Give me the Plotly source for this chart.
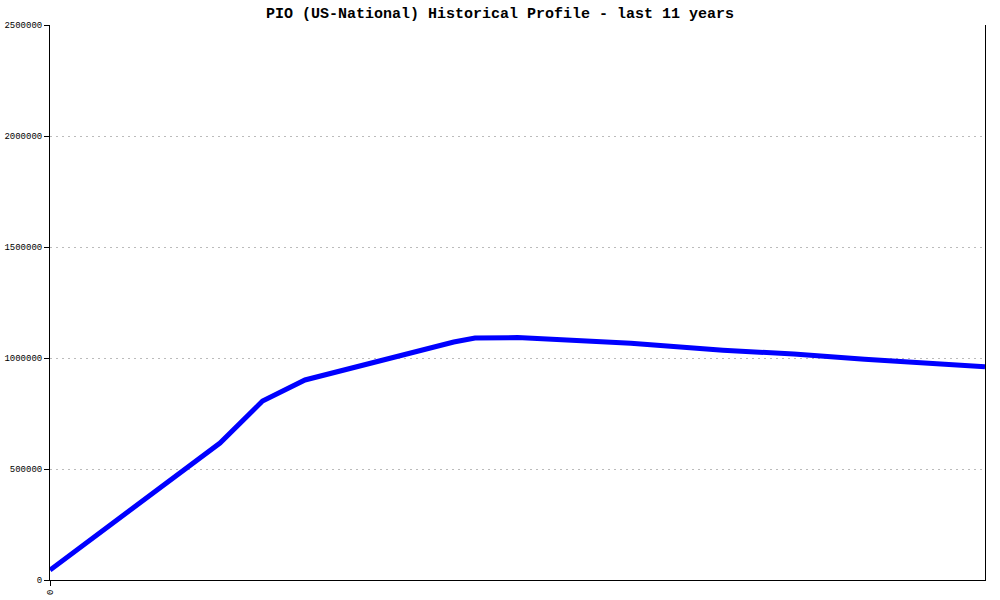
import plotly.graph_objects as go

# month index (0 = start of the 11-year window) and readings
months = [0, 24, 30, 36, 57, 60, 66, 75, 82, 95, 105, 115, 132]
values = [45000, 617000, 806000, 901000, 1072000, 1090000, 1092000, 1080000, 1066000, 1035000, 1018000, 994000, 961000]
x_tick_vals = [0]
x_tick_text = ["0"]
y_ticks = [0, 500000, 1000000, 1500000, 2000000, 2500000]

fig = go.Figure()
fig.add_trace(go.Scatter(x=months, y=values, mode="lines",
                         line=dict(color="#0000FF", width=5), hoverinfo="skip"))

mono = "Liberation Mono, Courier New, monospace"
W, H = 1000, 600
fig.update_layout(
    width=W, height=H,
    margin=dict(l=50, r=15, t=25, b=20, autoexpand=False),
    paper_bgcolor="white", plot_bgcolor="white",
    showlegend=False,
    title=dict(text="<b>PIO (US-National) Historical Profile - last 11 years</b>",
               x=0.5, xanchor="center", y=1 - 13 / H, yanchor="middle",
               font=dict(family=mono, size=15, color="black")),
    xaxis=dict(range=[0, 132], tickvals=x_tick_vals, ticktext=x_tick_text,
               tickangle=-90, ticks="outside", ticklen=5, tickcolor="black",
               showline=True, linecolor="black", linewidth=1, mirror=False,
               showgrid=False, zeroline=False,
               tickfont=dict(family=mono, size=9, color="black")),
    yaxis=dict(range=[0, 2500000], tickvals=y_ticks, ticktext=[str(v) for v in y_ticks],
               ticks="outside", ticklen=5, tickcolor="black",
               showline=True, linecolor="black", linewidth=1, mirror=True,
               showgrid=True, gridcolor="#BBBBBB", griddash="2px,4px", gridwidth=1,
               zeroline=False,
               tickfont=dict(family=mono, size=9, color="black")),
)

fig.write_html("out.html", config={"displayModeBar": False},
               post_script="document.body.style.margin='0';")
